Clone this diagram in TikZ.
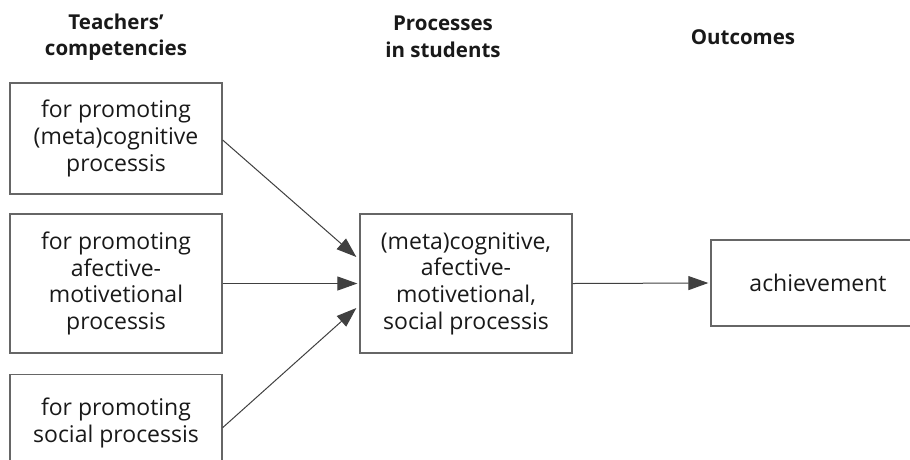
\documentclass[tikz,border=0pt]{standalone}
\usepackage{fontspec}
\setmainfont{Open Sans}
\usetikzlibrary{arrows.meta}
\begin{document}
\begin{tikzpicture}[x=1pt,y=-1pt,
  box/.style={draw=black!60, line width=1.3pt, align=center, text=black!90,
    font=\fontsize{23}{26.7}\selectfont, inner sep=0pt},
  head/.style={align=center, text=black!90, font=\fontsize{20.5}{26.5}\selectfont\bfseries},
  conn/.style={draw=black!75, line width=1pt, -{Triangle[length=20pt,width=14pt]}}]
\useasboundingbox (0,0) rectangle (910,459);
\clip (0,0) rectangle (910,459);
\node[head] (h1) at (116,37) {Teachers’\\competencies};
\node[head] (h2) at (443,37) {Processes\\in students};
\node[head] (h3) at (743,37) {Outcomes};
\node[box, minimum width=212pt, minimum height=111pt] (b1) at (116,138.5) {for promoting\\(meta)cognitive\\processis};
\node[box, minimum width=212pt, minimum height=139pt] (b2) at (116,283.5) {for promoting\\afective-\\motivetional\\processis};
\node[box, minimum width=212pt, minimum height=96pt, anchor=north] (b3) at (116,374) {for promoting\\social processis};
\node[box, minimum width=212pt, minimum height=139pt] (m) at (466,283.5) {(meta)cognitive,\\afective-\\motivetional,\\social processis};
\node[box, minimum width=214pt, minimum height=86pt] (a) at (818,283) {achievement};
\draw[conn] ([yshift=-1.5pt]b1.east) -- ([xshift=-3pt,yshift=26.5pt]m.west);
\draw[conn] (b2.east) -- ([xshift=-2pt]m.west);
\draw[conn] ([yshift=-5pt]b3.east) -- ([xshift=-3pt,yshift=-24.5pt]m.west);
\draw[conn] (m.east) -- ([xshift=-2pt]a.west);
\end{tikzpicture}
\end{document}
